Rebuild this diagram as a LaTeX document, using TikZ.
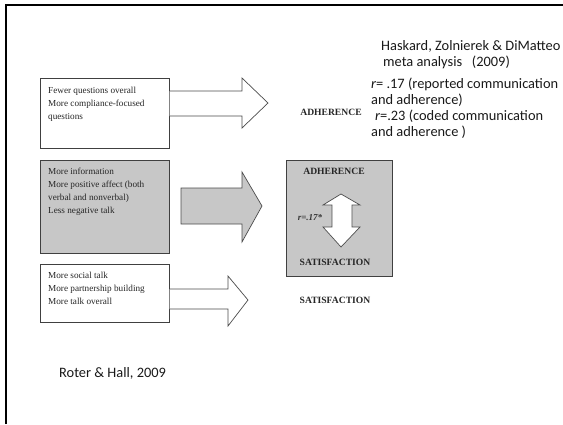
\documentclass[tikz,border=0pt]{standalone}
\usepackage{fontspec}
\setmainfont{Liberation Serif}
\newfontfamily\calib{Carlito}
\begin{document}
\begin{tikzpicture}[x=1pt,y=-1pt,
  box/.style={draw=black!75, line width=0.7pt, anchor=north west, inner sep=0pt},
  whitebox/.style={box, fill=white},
  graybox/.style={box, fill=black!22},
  boxtext/.style={anchor=north west, inner sep=0pt, align=left, text=black!85,
    font=\fontsize{9.2}{13}\selectfont},
  blockarrow/.style={draw=black!70, line width=0.7pt, line join=miter},
  label/.style={font=\bfseries\fontsize{9.6}{11}\selectfont, inner sep=0pt, text=black!85},
  note/.style={font=\calib\fontsize{14.4}{16}\selectfont, inner sep=0pt, align=left, anchor=north west, text=black!90}
]
\useasboundingbox (0,0) rectangle (563,424);
% frame
\draw[line width=1.6pt] (6,424) -- (6,5) -- (563,5);

% left boxes
\node[whitebox, minimum width=129pt, minimum height=70pt] (b1) at (40,78) {};
\node[graybox, minimum width=129pt, minimum height=93pt] (b2) at (40,160) {};
\node[whitebox, minimum width=129pt, minimum height=58pt] (b3) at (40,264) {};

\node[boxtext] (t1) at ([shift={(8,9)}]b1.north west) {Fewer questions overall\\More compliance-focused\\questions};
\node[boxtext] (t2) at ([shift={(8,8)}]b2.north west) {More information\\More positive affect (both\\verbal and nonverbal)\\Less negative talk};
\node[boxtext] (t3) at ([shift={(8,8)}]b3.north west) {More social talk\\More partnership building\\More talk overall};

% right gray box
\node[graybox, minimum width=106pt, minimum height=116pt] (rb) at (286,160) {};
\node[label] (rbA) at (334,171) {ADHERENCE};
\node[label] (rbS) at (335,262) {SATISFACTION};
\node[font=\bfseries\itshape\fontsize{9}{11}\selectfont, inner sep=0pt, text=black!80] (rr) at (310,218) {r=.17*};

% double arrow
\draw[blockarrow, fill=white] (341,194) -- (360,205) -- (352,205) -- (352,227) -- (360,227)
  -- (341,247) -- (323,227) -- (332,227) -- (332,205) -- (323,205) -- cycle;

% outcome labels
\node[label] (adh) at (331,112) {ADHERENCE};
\node[label] (sat) at (335,300) {SATISFACTION};

% block arrows
\draw[blockarrow, fill=white] (b1.east |- 0,91) -- (242,91) -- (242,78) -- (268,103)
  -- (242,128) -- (242,116) -- (b1.east |- 0,116);
\draw[blockarrow, fill=black!22] (181,188) -- (242,188) -- (242,172) -- (262,206)
  -- (242,242) -- (242,224) -- (181,224) -- cycle;
\draw[blockarrow, fill=white] (b3.east |- 0,289) -- (228,289) -- (228,276) -- (248,300)
  -- (228,326) -- (228,309) -- (b3.east |- 0,309);

% notes
\node[note] (n1) at (381,40) {Haskard, Zolnierek \& DiMatteo\\\hspace{2pt}meta analysis \ \ (2009)};
\node[note] (n2) at (371,78) {{\itshape r}= .17 (reported communication\\and adherence)\\\hspace{4pt}{\itshape r}=.23 (coded communication\\and adherence )};
\node[note, anchor=base west] (src) at (59,377) {Roter \& Hall, 2009};
\end{tikzpicture}
\end{document}
